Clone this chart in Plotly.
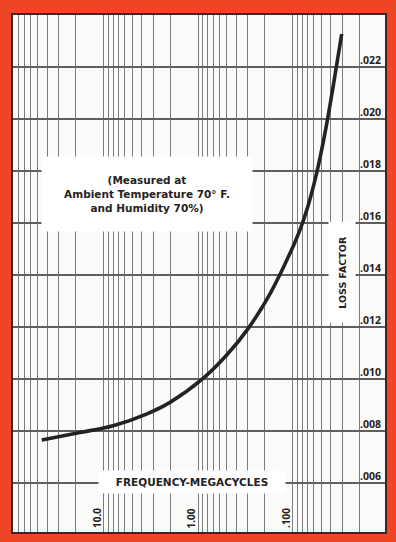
import plotly.graph_objects as go
import math

# ---- data ----
freq_mc = [45.6, 17.9, 8.0, 3.5, 2.0, 0.90, 0.50, 0.30, 0.175, 0.108,
           0.0843, 0.0693, 0.0561, 0.0458, 0.0378, 0.0305]
loss_factor = [0.00764, 0.00793, 0.00819, 0.00865, 0.00909, 0.0100, 0.01092,
               0.01192, 0.01327, 0.01481, 0.01573, 0.01665, 0.01792, 0.01946,
               0.02119, 0.02327]

y_tick_values = [0.006, 0.008, 0.010, 0.012, 0.014, 0.016, 0.018, 0.020, 0.022]
y_tick_labels = [".006", ".008", ".010", ".012", ".014", ".016", ".018", ".020", ".022"]
x_decades = [10, 1, 0.1]
x_decade_labels = ["10.0", "1.00", ".100"]

x_title = "FREQUENCY-MEGACYCLES"
y_title = "LOSS FACTOR"
note_text = "(Measured at<br>Ambient Temperature 70° F.<br>and Humidity 70%)"

# grid positions on the log axis: every digit of every decade
x_grid = [d * 10 ** k for k in range(-2, 2) for d in range(1, 10)] + [100]

RED = "#EE4524"
INK = "#262222"
FONT = "Open Sans"
TFONT = "DejaVu Sans"

fig = go.Figure()
fig.add_trace(go.Scatter(
    x=freq_mc, y=loss_factor, mode="lines",
    line=dict(color=INK, width=3.6, shape="spline", smoothing=1.1),
    hoverinfo="skip", showlegend=False,
))

annotations = []
for v, t in zip(y_tick_values, y_tick_labels):
    annotations.append(dict(
        x=1, xref="paper", y=v, yref="y", text=t, showarrow=False,
        xanchor="right", yanchor="bottom", xshift=-2, yshift=-2,
        font=dict(family=FONT, size=10.5, color=INK, weight="bold"),
    ))
for v, t in zip(x_decades, x_decade_labels):
    annotations.append(dict(
        x=math.log10(v), xref="x", y=0, yref="paper", text=t, showarrow=False,
        textangle=-90, xanchor="center", yanchor="bottom", xshift=-7, yshift=2,
        font=dict(family=FONT, size=10, color=INK, weight="bold"),
    ))

# frequency title with white band interrupting the grid
annotations.append(dict(
    x=0.48, xref="paper", y=0.006, yref="y", text=x_title, showarrow=False,
    xanchor="center", yanchor="middle", yshift=1,
    width=186, height=22, bgcolor="white", borderpad=0,
    font=dict(family=TFONT, size=10.5, color=INK, weight="bold"),
))
# loss factor title
annotations.append(dict(
    x=0.885, xref="paper", y=0.0141, yref="y", text=y_title, showarrow=False,
    textangle=-90, xanchor="center", yanchor="middle",
    width=100, height=26, bgcolor="white", borderpad=0,
    font=dict(family=TFONT, size=9.5, color=INK, weight="bold"),
))
# measurement note
annotations.append(dict(
    x=0.36, xref="paper", y=0.0171, yref="y", text=note_text, showarrow=False,
    xanchor="center", yanchor="middle", align="center",
    width=210, height=74, bgcolor="white", borderpad=0,
    font=dict(family=TFONT, size=10.5, color=INK, weight="bold"),
))

fig.update_layout(
    width=396, height=542,
    margin=dict(l=13, r=11, t=15, b=10),
    paper_bgcolor=RED, plot_bgcolor="#FBFBF9",
    showlegend=False,
    annotations=annotations,
    xaxis=dict(
        type="log", range=[1.963, -1.974],
        tickmode="array", tickvals=x_grid, showticklabels=False, ticks="",
        showgrid=True, gridcolor="#7C7C7C", gridwidth=1.3,
        showline=True, mirror=True, linecolor="#3A2626", linewidth=2,
        zeroline=False,
    ),
    yaxis=dict(
        range=[0.0041, 0.0240],
        tickmode="array", tickvals=y_tick_values, showticklabels=False, ticks="",
        showgrid=True, gridcolor="#5E5E5E", gridwidth=1.8,
        showline=True, mirror=True, linecolor="#3A2626", linewidth=2,
        zeroline=False,
    ),
)

fig.write_html(
    "out.html",
    config={"displayModeBar": False},
    post_script="document.body.style.margin='0';document.body.style.overflow='hidden';",
)
